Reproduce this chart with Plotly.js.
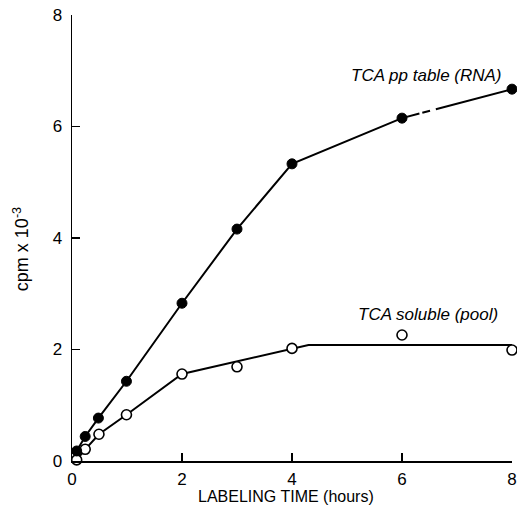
<!DOCTYPE html>
<html>
<head>
<meta charset="utf-8">
<script src="https://cdn.plot.ly/plotly-3.0.1.min.js"></script>
<style>html,body{margin:0;padding:0;background:#fff;}#chart{width:517px;height:514px;}</style>
</head>
<body>
<div id="chart"></div>
<script>
// Labeling time (hours)
const rnaX = [0.085, 0.24, 0.48, 0.99, 2, 3, 4, 6, 8];
// TCA precipitable (RNA), cpm x 10^-3
const rnaY = [0.18, 0.44, 0.77, 1.43, 2.83, 4.16, 5.33, 6.15, 6.67];

const poolX = [0.085, 0.24, 0.49, 0.99, 2, 3, 4, 6, 8];
// TCA soluble (pool), cpm x 10^-3
const poolY = [0.02, 0.21, 0.48, 0.83, 1.56, 1.69, 2.02, 2.26, 1.99];

// hand-drawn curve through the pool points
const poolCurveX = [0.085, 0.24, 0.49, 0.99, 2, 4, 4.3, 8];
const poolCurveY = [0.02, 0.21, 0.48, 0.83, 1.56, 2.02, 2.08, 2.08];

const xTicks = [0, 2, 4, 6, 8];
const yTicks = [0, 2, 4, 6, 8];

const rnaLabel = "TCA pp table (RNA)";
const poolLabel = "TCA soluble (pool)";
const xTitle = "LABELING TIME (hours)";
const yTitle = "cpm x 10<sup>-3</sup>";

const solidN = rnaX.indexOf(6) + 1;

const traces = [
  {x: rnaX.slice(0, solidN), y: rnaY.slice(0, solidN), mode: 'lines',
   line: {color: '#000', width: 2}, cliponaxis: false, hoverinfo: 'skip'},
  {x: rnaX.slice(solidN - 1), y: rnaY.slice(solidN - 1), mode: 'lines',
   line: {color: '#000', width: 2, dash: '18px,3px,8px,6px,300px'}, cliponaxis: false},
  {x: poolCurveX, y: poolCurveY, mode: 'lines',
   line: {color: '#000', width: 2}, cliponaxis: false},
  {x: poolX, y: poolY, mode: 'markers', cliponaxis: false,
   marker: {symbol: 'circle', size: 10, color: '#fff', line: {color: '#000', width: 1.6}}},
  {x: rnaX, y: rnaY, mode: 'markers', cliponaxis: false,
   marker: {symbol: 'circle', size: 10, color: '#000', line: {color: '#000', width: 1}}}
];

const layout = {
  width: 517, height: 514,
  margin: {l: 72, r: 5, t: 15, b: 53},
  paper_bgcolor: '#fff', plot_bgcolor: '#fff',
  showlegend: false,
  font: {family: 'Liberation Sans, Arial, sans-serif', color: '#000', size: 16},
  xaxis: {range: [0, 8], tickvals: xTicks, ticktext: xTicks.map(String),
    ticks: 'inside', ticklen: 8, tickwidth: 1.5, tickcolor: '#000',
    showline: true, linecolor: '#000', linewidth: 1.5, showgrid: false, zeroline: false,
    tickfont: {size: 17}, ticklabelstandoff: 2},
  yaxis: {range: [0, 8], tickvals: yTicks, ticktext: yTicks.map(String),
    ticks: 'inside', ticklen: 8, tickwidth: 1.5, tickcolor: '#000',
    showline: true, linecolor: '#000', linewidth: 1.5, showgrid: false, zeroline: false,
    tickfont: {size: 17}, ticklabelstandoff: 5},
  annotations: [
    {x: 6.45, y: 6.92, xref: 'x', yref: 'y', text: rnaLabel, showarrow: false,
     font: {size: 17, style: 'italic'}, xanchor: 'center', yanchor: 'middle'},
    {x: 6.47, y: 2.62, xref: 'x', yref: 'y', text: poolLabel, showarrow: false,
     font: {size: 17, style: 'italic'}, xanchor: 'center', yanchor: 'middle'},
    {x: 0.486, y: 0, xref: 'paper', yref: 'paper', text: xTitle, showarrow: false,
     font: {size: 16}, xanchor: 'center', yanchor: 'middle', yshift: -35},
    {x: 0, y: 0.475, xref: 'paper', yref: 'paper', text: yTitle, showarrow: false,
     font: {size: 18}, textangle: -90, xanchor: 'center', yanchor: 'middle', xshift: -51}
  ]
};

Plotly.newPlot('chart', traces, layout, {displayModeBar: false, staticPlot: true});
</script>
</body>
</html>
